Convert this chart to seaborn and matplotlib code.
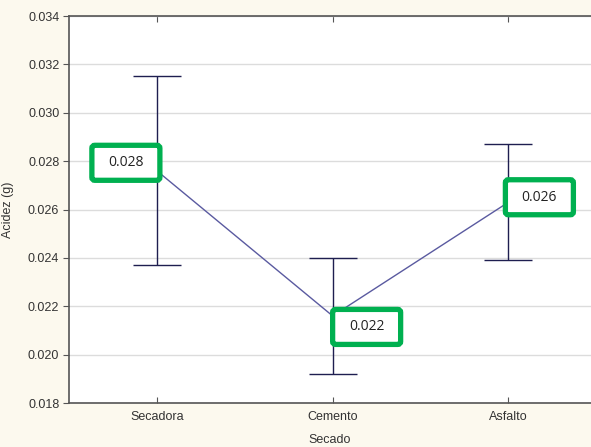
import matplotlib
matplotlib.use("Agg")
import matplotlib.pyplot as plt
from matplotlib.patches import FancyBboxPatch
from matplotlib.transforms import IdentityTransform
import seaborn as sns
import pandas as pd

# Acidity by drying method: mean and half-width of the error bar
categories = ["Secadora", "Cemento", "Asfalto"]
means = [0.0276, 0.0216, 0.0263]
errors = [0.0039, 0.0024, 0.0024]
y_ticks = [0.018, 0.020, 0.022, 0.024, 0.026, 0.028, 0.030, 0.032, 0.034]

df = pd.DataFrame({"Secado": categories, "Acidez (g)": means})

sns.set_theme(style="white")
plt.rcParams["font.family"] = ["Liberation Sans", "DejaVu Sans"]

DPI = 100
fig = plt.figure(figsize=(5.91, 4.47), dpi=DPI, facecolor="#fcf9ee")
ax = fig.add_axes([69 / 591, 44 / 447, 1 - 69 / 591, (403 - 16) / 447])
ax.set_facecolor("white")

sns.pointplot(data=df, x="Secado", y="Acidez (g)", errorbar=None, ax=ax,
              color="#5a5aa0", markers="o", linestyles="-",
              linewidth=1.0, markersize=4, markerfacecolor="white",
              markeredgecolor="#2a2ab0", markeredgewidth=1.0)

xpos = list(range(len(categories)))
ax.errorbar(xpos, means, yerr=errors, fmt="none", ecolor="#1e1e50",
            elinewidth=1.0, capsize=17, capthick=1.0, zorder=2)

ax.set_xlim(-0.5, 2.47)
ax.set_ylim(y_ticks[0], y_ticks[-1])
ax.set_yticks(y_ticks)
ax.set_yticklabels([f"{t:.3f}" for t in y_ticks])
ax.grid(axis="y", color="#dcdcdc", linewidth=1.0)
ax.set_axisbelow(True)

for side in ["left", "bottom", "top"]:
    ax.spines[side].set_color("#555555")
    ax.spines[side].set_linewidth(1.2)
ax.spines["right"].set_visible(False)

ax.tick_params(axis="y", direction="out", length=4, width=0.8, color="#555555",
               labelsize=9, labelcolor="#333333", left=True, pad=3)
ax.tick_params(axis="x", direction="in", length=4, width=0.8, color="#555555",
               labelsize=9, labelcolor="#333333", bottom=True, top=True, pad=6)

ax.set_xlabel("Secado", fontsize=9, color="#333333", labelpad=8)
ax.set_ylabel("Acidez (g)", fontsize=9, color="#333333", labelpad=10)

# Value callouts: offsets of box centres from each point, in pixels
box_offsets = [(-31, 8), (34, -11), (31, 5)]
box_w, box_h = 68, 35
green = "#00b050"
for i, (v, (dx, dy)) in enumerate(zip(means, box_offsets)):
    px, py = ax.transData.transform((i, v))
    cx, cy = px + dx, py + dy
    patch = FancyBboxPatch((cx - box_w / 2, cy - box_h / 2), box_w, box_h,
                           boxstyle="round,pad=0,rounding_size=3",
                           transform=IdentityTransform(), facecolor="white",
                           edgecolor=green, linewidth=3.8, zorder=5,
                           clip_on=False)
    ax.add_artist(patch)
    ax.annotate(f"{v:.3f}", xy=(i, v), xytext=(dx * 72 / DPI, dy * 72 / DPI),
                textcoords="offset points", ha="center", va="center",
                fontsize=10, color="#222222", family=["Open Sans", "DejaVu Sans"],
                zorder=6, annotation_clip=False)

fig.savefig("out.png", dpi=DPI, facecolor=fig.get_facecolor())
